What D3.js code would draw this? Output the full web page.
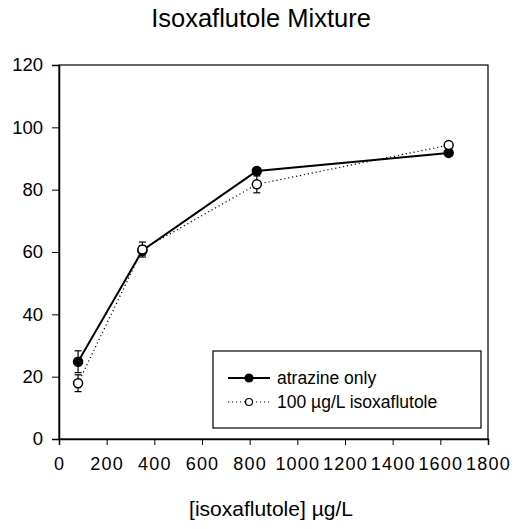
<!DOCTYPE html>
<html>
<head>
<meta charset="utf-8">
<script src="https://cdn.jsdelivr.net/npm/d3@7"></script>
<style>
body { margin: 0; background: #fff; }
text { font-family: "Liberation Sans", Arial, sans-serif; fill: #000; }
</style>
</head>
<body>
<div id="chart"></div>
<script>
var width = 516
var height = 529

// concentrations (x) and responses (y)
var conc = [80, 350, 830, 1635]
var atrazineOnly = [24.8, 60.5, 86, 91.8]
var atrazineErr = [3.5, 1.5, 1, 1]
var withIsox = [17.9, 60.8, 81.7, 94.3]
var isoxErr = [2.7, 2.4, 2.7, 1]

var xTicks = [0, 200, 400, 600, 800, 1000, 1200, 1400, 1600, 1800]
var yTicks = [0, 20, 40, 60, 80, 100, 120]

var plotLeft = 59, plotRight = 488, plotTop = 65, plotBottom = 439

var svg = d3.select("#chart")
    .append("svg")
    .attr("width", width)
    .attr("height", height)

var x = d3.scaleLinear().domain([0, 1800]).range([plotLeft, plotRight])
var y = d3.scaleLinear().domain([0, 120]).range([plotBottom, plotTop])

// title
svg.append("text")
    .attr("x", 261)
    .attr("y", 27)
    .attr("text-anchor", "middle")
    .attr("font-size", 25.5)
    .text("Isoxaflutole Mixture")

// frame
svg.append("rect")
    .attr("x", plotLeft)
    .attr("y", plotTop)
    .attr("width", plotRight - plotLeft)
    .attr("height", plotBottom - plotTop)
    .attr("fill", "none")
    .attr("stroke", "#000")
    .attr("stroke-width", 1.2)

var xAxis = svg.append("g")
    .attr("transform", "translate(0," + plotBottom + ")")
    .call(d3.axisBottom(x).tickValues(xTicks).tickSize(6).tickPadding(12).tickFormat(d3.format("d")))
xAxis.select(".domain").attr("stroke-width", 1.5)
xAxis.selectAll("text")
    .attr("font-size", 18)
    .attr("letter-spacing", 1.2)
    .attr("font-family", "Liberation Sans, Arial, sans-serif")

var yAxis = svg.append("g")
    .attr("transform", "translate(" + plotLeft + ",0)")
    .call(d3.axisLeft(y).tickValues(yTicks).tickSize(7).tickPadding(9))
yAxis.select(".domain").attr("stroke-width", 1.5)
yAxis.selectAll("text")
    .attr("font-size", 18.5)
    .attr("font-family", "Liberation Sans, Arial, sans-serif")

// x axis title
svg.append("text")
    .attr("x", 271)
    .attr("y", 516)
    .attr("text-anchor", "middle")
    .attr("font-size", 21)
    .text("[isoxaflutole] \u00b5g/L")

function series(vals, errs, filled, dash) {
    var pts = conc.map(function(c, i) { return { x: c, y: vals[i], e: errs[i] } })
    var line = d3.line()
        .x(function(d) { return x(d.x) })
        .y(function(d) { return y(d.y) })
    var g = svg.append("g")
    g.append("path")
        .datum(pts)
        .attr("d", line)
        .attr("fill", "none")
        .attr("stroke", "#000")
        .attr("stroke-width", filled ? 2 : 1.2)
        .attr("stroke-dasharray", dash)

    var bars = g.selectAll(".err")
        .data(pts)
        .enter()
        .append("g")
    bars.append("line")
        .attr("x1", function(d) { return x(d.x) })
        .attr("x2", function(d) { return x(d.x) })
        .attr("y1", function(d) { return y(d.y - d.e) })
        .attr("y2", function(d) { return y(d.y + d.e) })
        .attr("stroke", "#000")
        .attr("stroke-width", 1.2)
    ;[-1, 1].forEach(function(s) {
        bars.append("line")
            .attr("x1", function(d) { return x(d.x) - 3.5 })
            .attr("x2", function(d) { return x(d.x) + 3.5 })
            .attr("y1", function(d) { return y(d.y + s * d.e) })
            .attr("y2", function(d) { return y(d.y + s * d.e) })
            .attr("stroke", "#000")
            .attr("stroke-width", 1.2)
    })

    g.selectAll("circle")
        .data(pts)
        .enter()
        .append("circle")
        .attr("cx", function(d) { return x(d.x) })
        .attr("cy", function(d) { return y(d.y) })
        .attr("r", 4.5)
        .attr("fill", filled ? "#000" : "#fff")
        .attr("stroke", "#000")
        .attr("stroke-width", 1.5)
}

series(atrazineOnly, atrazineErr, true, null)
series(withIsox, isoxErr, false, "1.2,2.8")

// legend
var legend = svg.append("g")
legend.append("rect")
    .attr("x", 213)
    .attr("y", 351)
    .attr("width", 268)
    .attr("height", 77)
    .attr("fill", "#fff")
    .attr("stroke", "#000")
    .attr("stroke-width", 1.2)

var items = [
    { label: "atrazine only", filled: true, dash: null, w: 2 },
    { label: "100 \u00b5g/L isoxaflutole", filled: false, dash: "1.2,2.8", w: 1.2 }
]
items.forEach(function(it, i) {
    var cy = 378 + i * 24
    legend.append("line")
        .attr("x1", 228).attr("x2", 270)
        .attr("y1", cy).attr("y2", cy)
        .attr("stroke", "#000")
        .attr("stroke-width", it.w)
        .attr("stroke-dasharray", it.dash)
    legend.append("circle")
        .attr("cx", 249).attr("cy", cy)
        .attr("r", it.filled ? 4 : 3.5)
        .attr("fill", it.filled ? "#000" : "#fff")
        .attr("stroke", "#000")
        .attr("stroke-width", 1.2)
    legend.append("text")
        .attr("x", 277)
        .attr("y", cy + 6)
        .attr("font-size", 17.5)
        .text(it.label)
})
</script>
</body>
</html>
